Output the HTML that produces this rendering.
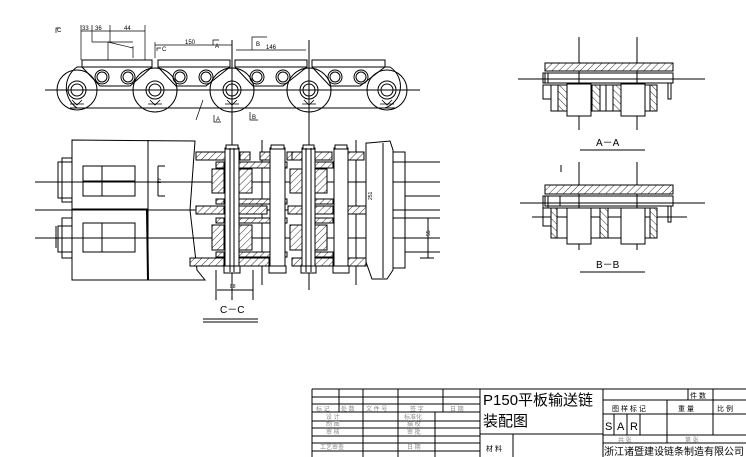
<!DOCTYPE html>
<html><head><meta charset="utf-8"><style>
html,body{margin:0;padding:0;background:#fff}
svg{display:block}
text{font-family:"Liberation Sans","Noto Sans CJK SC",sans-serif}
</style></head><body>
<svg width="746" height="457" viewBox="0 0 746 457" xmlns="http://www.w3.org/2000/svg">
<defs>
<pattern id="h" width="5" height="5" patternUnits="userSpaceOnUse" patternTransform="rotate(45)">
<rect width="5" height="5" fill="#fff"/><line x1="0" y1="0" x2="0" y2="5" stroke="#000" stroke-width="0.8"/></pattern>
<pattern id="h2" width="5" height="5" patternUnits="userSpaceOnUse" patternTransform="rotate(-45)">
<rect width="5" height="5" fill="#fff"/><line x1="0" y1="0" x2="0" y2="5" stroke="#000" stroke-width="0.8"/></pattern>
</defs>
<g stroke="#000" stroke-width="1" fill="none">
<!-- TOP CHAIN -->
<line x1="45" y1="90" x2="420" y2="90"/>
<line x1="232" y1="40" x2="232" y2="135"/>
<line x1="309" y1="40" x2="309" y2="135"/>
<line x1="70" y1="108" x2="395" y2="108"/>
<g fill="#fff">
<rect x="82" y="60" width="70" height="7"/>
<rect x="158" y="60" width="72" height="7"/>
<rect x="235" y="60" width="72" height="7"/>
<rect x="312" y="60" width="73" height="7"/>
</g>
<!-- links -->
<path d="M82 67 L77 67 A25 25 0 0 0 77 108"/>
<path d="M385 67 L390 67 A23 23 0 0 1 385 108"/>
<g>
<path d="M82 67 L100 86 L130 86 L152 67"/>
<path d="M158 67 L176 86 L206 86 L230 67"/>
<path d="M235 67 L253 86 L283 86 L307 67"/>
<path d="M312 67 L330 86 L360 86 L385 67"/>
</g>
<g>
<circle cx="77" cy="90" r="9"/><circle cx="77" cy="90" r="6"/>
<circle cx="155" cy="90" r="9"/><circle cx="155" cy="90" r="6"/><circle cx="155" cy="90" r="22"/>
<circle cx="232" cy="90" r="9"/><circle cx="232" cy="90" r="6"/><circle cx="232" cy="90" r="22"/>
<circle cx="309" cy="90" r="9"/><circle cx="309" cy="90" r="6"/><circle cx="309" cy="90" r="22"/>
<circle cx="387" cy="90" r="9"/><circle cx="387" cy="90" r="6"/>
<circle cx="77" cy="90" r="20"/><circle cx="387" cy="90" r="20"/>
</g>
<g>
<circle cx="102" cy="77" r="7"/><circle cx="102" cy="77" r="5"/>
<circle cx="128" cy="77" r="7"/><circle cx="128" cy="77" r="5"/>
<circle cx="180" cy="77" r="7"/><circle cx="180" cy="77" r="5"/>
<circle cx="206" cy="77" r="7"/><circle cx="206" cy="77" r="5"/>
<circle cx="257" cy="77" r="7"/><circle cx="257" cy="77" r="5"/>
<circle cx="283" cy="77" r="7"/><circle cx="283" cy="77" r="5"/>
<circle cx="335" cy="77" r="7"/><circle cx="335" cy="77" r="5"/>
<circle cx="361" cy="77" r="7"/><circle cx="361" cy="77" r="5"/>
</g>
<g stroke-width="0.8">
<path d="M72 100 L77 105 L82 100 M70 104 L84 104"/>
<path d="M150 100 L155 105 L160 100 M148 104 L162 104"/>
<path d="M227 100 L232 105 L237 100 M225 104 L239 104"/>
<path d="M304 100 L309 105 L314 100 M302 104 L316 104"/>
<path d="M382 100 L387 105 L392 100 M380 104 L394 104"/>
</g>
<!-- dims top -->
<g stroke-width="0.7">
<line x1="81" y1="25" x2="81" y2="60"/><line x1="92" y1="25" x2="92" y2="42"/>
<line x1="110" y1="25" x2="110" y2="42"/><line x1="145" y1="25" x2="145" y2="60"/>
<line x1="81" y1="31" x2="145" y2="31"/>
<line x1="92" y1="42" x2="133" y2="42"/><line x1="108" y1="42" x2="108" y2="60"/>
<line x1="108" y1="42" x2="133" y2="48"/><line x1="133" y1="46" x2="133" y2="58"/>
<line x1="155" y1="45" x2="232" y2="45"/><line x1="155" y1="42" x2="155" y2="58"/>
<line x1="236" y1="50" x2="306" y2="50"/>
<path d="M252 50 L252 37 L267 37"/>
<path d="M157 51 L157 48 L161 48"/>
<path d="M56 33 L56 28 L60 28"/>
<path d="M214 115 L214 122 L221 122"/>
<path d="M250 112 L250 120 L258 120"/>
<path d="M213 45 L213 40 L219 40"/>
<line x1="203" y1="100" x2="196" y2="120"/>
</g>
</g>
<g font-size="6" fill="#000">
<text x="82" y="30">33</text><text x="95" y="30">36</text><text x="124" y="30">44</text>
<text x="185" y="44">150</text><text x="266" y="49">146</text><text x="256" y="46">B</text>
<text x="215" y="48">A</text><text x="162" y="51">C</text><text x="57" y="32">C</text>
<text x="216" y="121">A</text><text x="252" y="119">B</text>
</g>

<!-- C-C VIEW -->
<g stroke="#000" stroke-width="1" fill="none">
<line x1="35" y1="182" x2="440" y2="182"/>
<line x1="35" y1="210" x2="440" y2="210"/>
<line x1="35" y1="238" x2="440" y2="238"/>
<path d="M72 140 L195 141 L190 210 L197 270 L205 280 L72 280 Z" fill="none"/>
<line x1="148" y1="140" x2="148" y2="280"/>
<line x1="147" y1="210" x2="148" y2="280" stroke-width="2"/>
<line x1="72" y1="209" x2="148" y2="209"/>
<rect x="83" y="166" width="52" height="30"/><line x1="102" y1="166" x2="102" y2="196"/><line x1="83" y1="181" x2="135" y2="181"/>
<rect x="83" y="223" width="52" height="29"/><line x1="102" y1="223" x2="102" y2="252"/><line x1="83" y1="238" x2="135" y2="238"/>
<rect x="58" y="162" width="14" height="36"/><rect x="62" y="158" width="10" height="44"/>
<rect x="58" y="226" width="14" height="26"/><rect x="62" y="218" width="10" height="40"/>
<line x1="158" y1="166" x2="158" y2="196"/>
<!-- center section -->
<line x1="232" y1="125" x2="232" y2="300"/>
<line x1="309" y1="125" x2="309" y2="290"/>
<line x1="216" y1="270" x2="216" y2="300"/><line x1="253" y1="270" x2="253" y2="300"/>
<line x1="217" y1="290" x2="253" y2="290"/>
<line x1="262" y1="140" x2="262" y2="285"/>
<line x1="356" y1="140" x2="356" y2="285"/>
<g fill="url(#h)">
<rect x="196" y="152" width="34" height="8"/><rect x="240" y="152" width="10" height="8"/>
<rect x="260" y="152" width="10" height="8"/><rect x="287" y="152" width="10" height="8"/>
<rect x="292" y="152" width="10" height="8"/><rect x="315" y="152" width="17" height="8"/>
<rect x="348" y="152" width="16" height="8"/>
<rect x="196" y="206" width="28" height="8"/><rect x="239" y="206" width="28" height="8"/>
<rect x="288" y="206" width="14" height="8"/><rect x="315" y="206" width="18" height="8"/><rect x="348" y="206" width="18" height="8"/>
<rect x="190" y="258" width="34" height="8"/><rect x="239" y="258" width="30" height="8"/>
<rect x="292" y="258" width="10" height="8"/><rect x="315" y="258" width="18" height="8"/><rect x="348" y="258" width="18" height="8"/>
<rect x="216" y="162" width="8" height="6"/><rect x="239" y="162" width="48" height="6"/><rect x="315" y="162" width="18" height="6"/>
<rect x="216" y="199" width="8" height="5"/><rect x="239" y="199" width="48" height="5"/><rect x="315" y="199" width="18" height="5"/>
<rect x="216" y="218" width="8" height="5"/><rect x="239" y="218" width="48" height="5"/><rect x="315" y="218" width="18" height="5"/>
<rect x="216" y="252" width="8" height="5"/><rect x="239" y="252" width="48" height="5"/><rect x="315" y="252" width="18" height="5"/>
<rect x="212" y="169" width="12" height="24"/><rect x="239" y="169" width="13" height="24"/>
<rect x="290" y="169" width="12" height="24"/><rect x="315" y="169" width="12" height="24"/>
<rect x="212" y="225" width="12" height="25"/><rect x="239" y="225" width="13" height="25"/>
<rect x="290" y="225" width="12" height="25"/><rect x="315" y="225" width="12" height="25"/>
</g>
<g fill="#fff">
<rect x="225" y="148" width="14" height="124"/><rect x="270" y="148" width="15" height="124"/>
<rect x="302" y="148" width="13" height="124"/><rect x="334" y="148" width="14" height="124"/>
<rect x="226" y="145" width="12" height="4"/><rect x="271" y="145" width="13" height="4"/>
<rect x="303" y="145" width="11" height="4"/><rect x="335" y="145" width="12" height="4"/>
<rect x="224" y="266" width="16" height="7"/><rect x="269" y="266" width="17" height="7"/>
<rect x="301" y="266" width="15" height="7"/><rect x="333" y="266" width="16" height="7"/>
</g>
<line x1="230" y1="148" x2="230" y2="272"/><line x1="234" y1="148" x2="234" y2="272"/>
<line x1="306" y1="148" x2="306" y2="272"/><line x1="311" y1="148" x2="311" y2="272"/>
<!-- right block -->
<path d="M368 143 L390 141 L393 150 L393 270 L387 279 L372 279 L366 262 L366 143 Z" fill="#fff"/>
<line x1="383" y1="143" x2="383" y2="278"/>
<rect x="393" y="152" width="12" height="116"/>
<line x1="393" y1="162" x2="440" y2="162"/><line x1="405" y1="196" x2="440" y2="196"/>
<line x1="393" y1="218" x2="440" y2="218"/><line x1="405" y1="252" x2="440" y2="252"/>
<line x1="428" y1="218" x2="428" y2="258"/>
<line x1="420" y1="218" x2="434" y2="218"/><line x1="420" y1="258" x2="434" y2="258"/>
<line x1="158" y1="166" x2="165" y2="166"/><line x1="158" y1="196" x2="165" y2="196"/>
<line x1="56" y1="226" x2="56" y2="248"/>
</g>
<g font-size="5" fill="#000">
<text x="157" y="178" transform="rotate(90 157 178)">44</text>
<text x="372" y="200" transform="rotate(-90 372 200)">251</text>
<text x="430" y="236" transform="rotate(-90 430 236)">55</text>
<text x="230" y="288">88</text>
</g>
<text x="220" y="313" font-size="10" fill="#000">C－C</text>
<line x1="203" y1="319" x2="258" y2="319" stroke="#000"/>
<line x1="203" y1="322" x2="258" y2="322" stroke="#000"/>

<!-- A-A -->
<g stroke="#000" fill="none">
<line x1="518" y1="79" x2="705" y2="79"/>
<line x1="579" y1="37" x2="579" y2="130"/><line x1="637" y1="37" x2="637" y2="130"/>
<rect x="545" y="63" width="128" height="8" fill="url(#h)"/>
<rect x="545" y="73" width="128" height="10"/>
<rect x="543" y="73" width="5" height="10"/>
<rect x="543" y="85" width="8" height="14"/>
<rect x="551" y="85" width="104" height="26"/>
<rect x="558" y="85" width="9" height="26" fill="url(#h2)"/>
<rect x="567" y="84" width="24" height="32" fill="#fff"/>
<rect x="592" y="85" width="8" height="26" fill="url(#h2)"/>
<rect x="613" y="85" width="8" height="26" fill="url(#h2)"/>
<rect x="621" y="84" width="24" height="32" fill="#fff"/>
<rect x="650" y="85" width="7" height="26" fill="url(#h2)"/>
<rect x="668" y="83" width="3" height="16"/>
<line x1="600" y1="85" x2="600" y2="111"/><line x1="606" y1="85" x2="606" y2="111"/>
<line x1="580" y1="150" x2="645" y2="150"/>
</g>
<text x="596" y="146" font-size="10" fill="#000">A－A</text>
<!-- B-B -->
<g stroke="#000" fill="none">
<line x1="520" y1="203" x2="705" y2="203"/>
<line x1="532" y1="217" x2="687" y2="217"/>
<line x1="579" y1="162" x2="579" y2="250"/><line x1="637" y1="162" x2="637" y2="250"/>
<line x1="561" y1="165" x2="561" y2="172"/>
<rect x="545" y="185" width="128" height="9" fill="url(#h)"/>
<rect x="545" y="196" width="128" height="10"/>
<rect x="543" y="196" width="5" height="12"/>
<rect x="548" y="196" width="12" height="10"/>
<rect x="543" y="208" width="8" height="18"/>
<rect x="551" y="208" width="104" height="30"/>
<rect x="551" y="208" width="6" height="30" fill="url(#h2)"/>
<rect x="567" y="208" width="24" height="36" fill="#fff"/>
<rect x="600" y="208" width="8" height="30" fill="url(#h2)"/>
<rect x="621" y="208" width="24" height="36" fill="#fff"/>
<rect x="650" y="208" width="7" height="30" fill="url(#h2)"/>
<rect x="668" y="206" width="3" height="16"/>
<line x1="272" y1="0" x2="272" y2="0"/>
<line x1="580" y1="272" x2="645" y2="272"/>
</g>
<text x="596" y="268" font-size="10" fill="#000">B－B</text>

<!-- TITLE BLOCK -->
<g stroke="#000" stroke-width="1" fill="none">
<line x1="312" y1="389" x2="746" y2="389"/>
<line x1="312" y1="389" x2="312" y2="457"/>
<line x1="312" y1="397" x2="480" y2="397"/>
<line x1="312" y1="404" x2="480" y2="404"/>
<line x1="312" y1="412" x2="480" y2="412"/>
<line x1="312" y1="421" x2="480" y2="421"/>
<line x1="312" y1="428" x2="480" y2="428"/>
<line x1="312" y1="436" x2="480" y2="436"/>
<line x1="312" y1="443" x2="480" y2="443"/>
<line x1="312" y1="451" x2="480" y2="451"/>
<line x1="339" y1="389" x2="339" y2="412"/>
<line x1="363" y1="389" x2="363" y2="457"/>
<line x1="398" y1="389" x2="398" y2="457"/>
<line x1="443" y1="389" x2="443" y2="412"/>
<line x1="435" y1="412" x2="435" y2="457"/>
<line x1="480" y1="389" x2="480" y2="457"/>
<line x1="603" y1="389" x2="603" y2="457"/>
<line x1="480" y1="434" x2="603" y2="434"/>
<line x1="513" y1="434" x2="513" y2="457"/>
<line x1="603" y1="400" x2="746" y2="400"/>
<line x1="603" y1="414" x2="746" y2="414"/>
<line x1="603" y1="435" x2="746" y2="435"/>
<line x1="603" y1="443" x2="746" y2="443"/>
<line x1="688" y1="389" x2="688" y2="400"/>
<line x1="713" y1="389" x2="713" y2="435"/>
<line x1="667" y1="400" x2="667" y2="443"/>
<line x1="614" y1="414" x2="614" y2="435"/>
<line x1="627" y1="414" x2="627" y2="435"/>
<line x1="640" y1="414" x2="640" y2="435"/>
</g>
<g font-size="6" fill="#888">
<text x="316" y="411">标 记</text><text x="341" y="411">处 数</text><text x="366" y="411">文 件 号</text>
<text x="410" y="411">签 字</text><text x="450" y="411">日 期</text>
<text x="326" y="419">设 计</text><text x="404" y="419">标准化</text>
<text x="326" y="426">制 图</text><text x="407" y="426">描 校</text>
<text x="326" y="434">审 核</text><text x="407" y="434">审 批</text>
<text x="320" y="449">工艺审查</text><text x="407" y="449">日 期</text>
<text x="618" y="442">共 张</text><text x="685" y="442">第 张</text>
</g>
<g fill="#000">
<text x="483" y="405" font-size="15">P150平板输送链</text>
<text x="483" y="426" font-size="15">装配图</text>
<text x="486" y="451" font-size="7">材 料</text>
<text x="690" y="398" font-size="7">件 数</text>
<text x="612" y="411" font-size="7">图 样 标 记</text>
<text x="678" y="411" font-size="7">重 量</text>
<text x="717" y="411" font-size="7">比 例</text>
<text x="605" y="430" font-size="11">S</text><text x="617" y="430" font-size="11">A</text><text x="630" y="430" font-size="11">R</text>
<text x="604" y="455" font-size="10">浙江诸暨建设链条制造有限公司</text>
</g>
</svg>
</body></html>
